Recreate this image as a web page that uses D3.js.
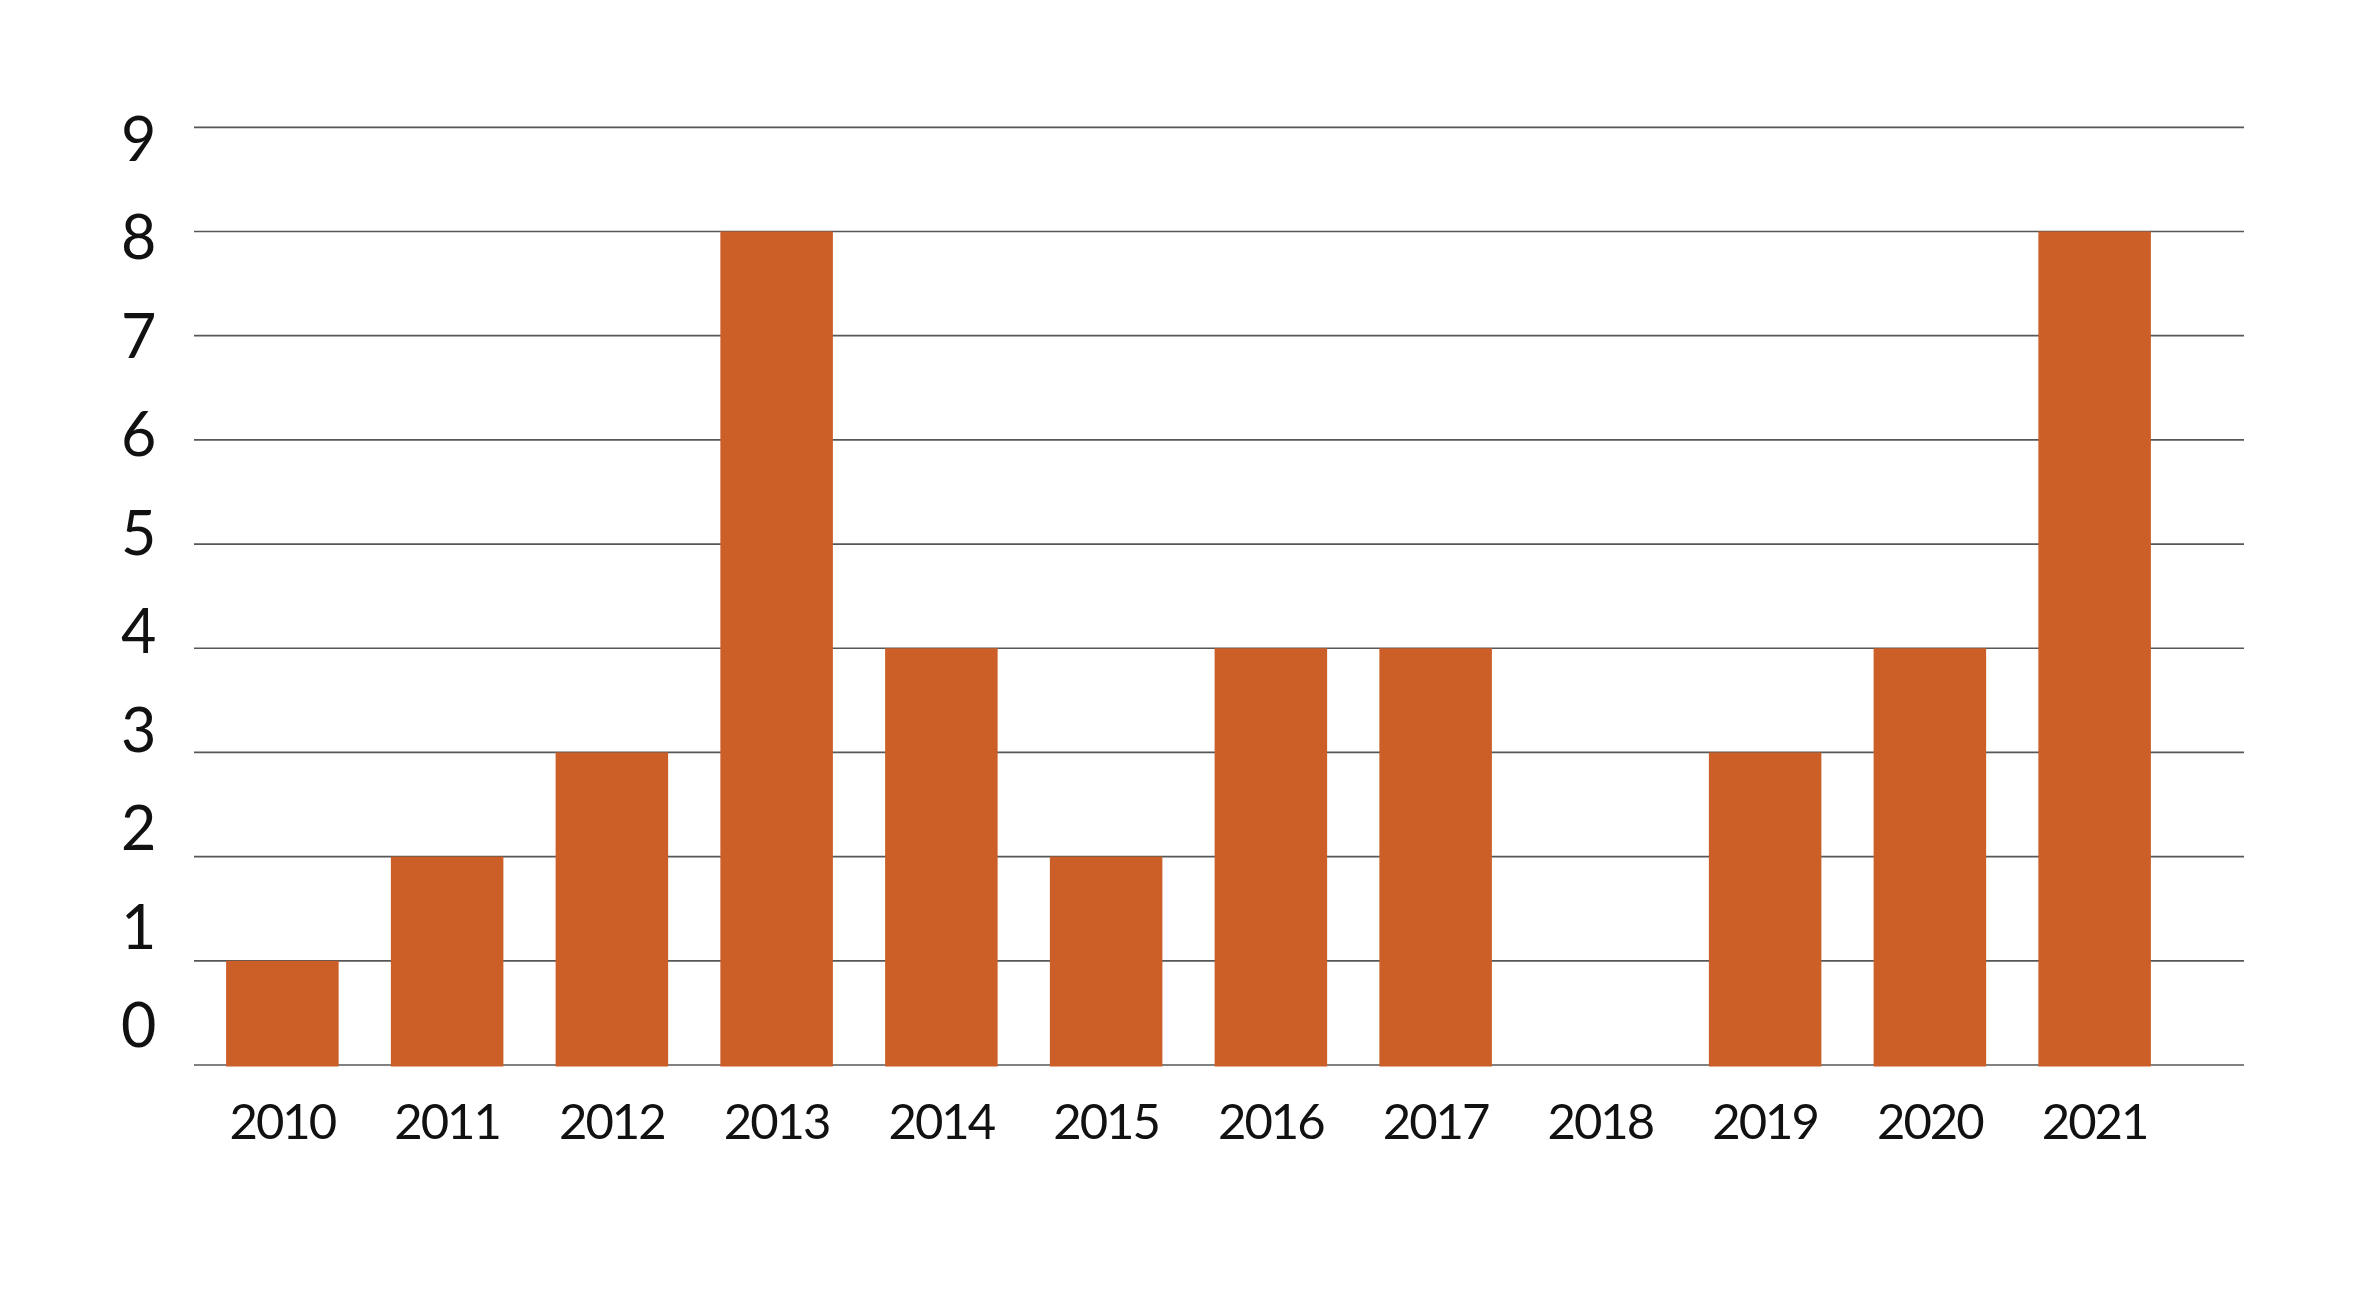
<!DOCTYPE html>
<html>
<head>
<meta charset="utf-8">
<script src="https://cdnjs.cloudflare.com/ajax/libs/d3/7.8.5/d3.min.js"></script>
<style>
  html, body { margin: 0; padding: 0; background: #fff; }
  text { font-family: Lato, "Noto Sans", sans-serif; fill: #111; }
</style>
</head>
<body>
<div id="chart"></div>
<script>
(function(){

    // data
    var years = ["2010", "2011", "2012", "2013", "2014", "2015", "2016", "2017", "2018", "2019", "2020", "2021"];
    var counts = [1, 2, 3, 8, 4, 2, 4, 4, 0, 3, 4, 8];
    var yTicks = [0, 1, 2, 3, 4, 5, 6, 7, 8, 9];

    var width = 2362, height = 1299;

    var svg = d3.select("#chart").append("svg")
        .attr("width", width)
        .attr("height", height);

    // scales
    var x = d3.scaleBand()
        .domain(years)
        .range([200, 2177])
        .paddingInner(0.317)
        .paddingOuter(0.1585);

    var y = d3.scaleLinear()
        .domain([0, 9])
        .range([1065, 127.3]);

    // tick labels sit on a slightly tighter spacing than the gridlines
    var yLabel = d3.scaleLinear()
        .domain([0, 9])
        .range([1047, 161]);

    // gridlines
    svg.append("g")
        .attr("class", "grid")
        .selectAll("line")
        .data(yTicks)
        .enter()
        .append("line")
        .attr("x1", 194)
        .attr("x2", 2244)
        .attr("y1", function(d) { return y(d); })
        .attr("y2", function(d) { return y(d); })
        .style("stroke", "#575757")
        .style("stroke-width", "1.7px");

    // y tick labels
    svg.append("g")
        .attr("class", "y-labels")
        .selectAll("text")
        .data(yTicks)
        .enter()
        .append("text")
        .attr("x", 121)
        .attr("y", function(d) { return yLabel(d); })
        .style("font-size", "61px")
        .style("font-weight", 400)
        .text(function(d) { return d; });

    // bars
    svg.append("g")
        .attr("class", "bars")
        .selectAll("rect")
        .data(counts)
        .enter()
        .append("rect")
        .attr("x", function(d, i) { return x(years[i]); })
        .attr("width", x.bandwidth())
        .attr("y", function(d) { return y(d); })
        .attr("height", function(d) { return d > 0 ? y(0) - y(d) + 1.5 : 0; })
        .style("fill", "#cc5f28");

    // x labels
    svg.append("g")
        .attr("class", "x-labels")
        .selectAll("text")
        .data(years)
        .enter()
        .append("text")
        .attr("x", function(d) { return x(d) + x.bandwidth() / 2; })
        .attr("y", 1139)
        .attr("text-anchor", "middle")
        .style("font-size", "49px")
        .style("font-weight", 400)
        .style("letter-spacing", "-2px")
        .text(function(d) { return d; });

})();
</script>
</body>
</html>
